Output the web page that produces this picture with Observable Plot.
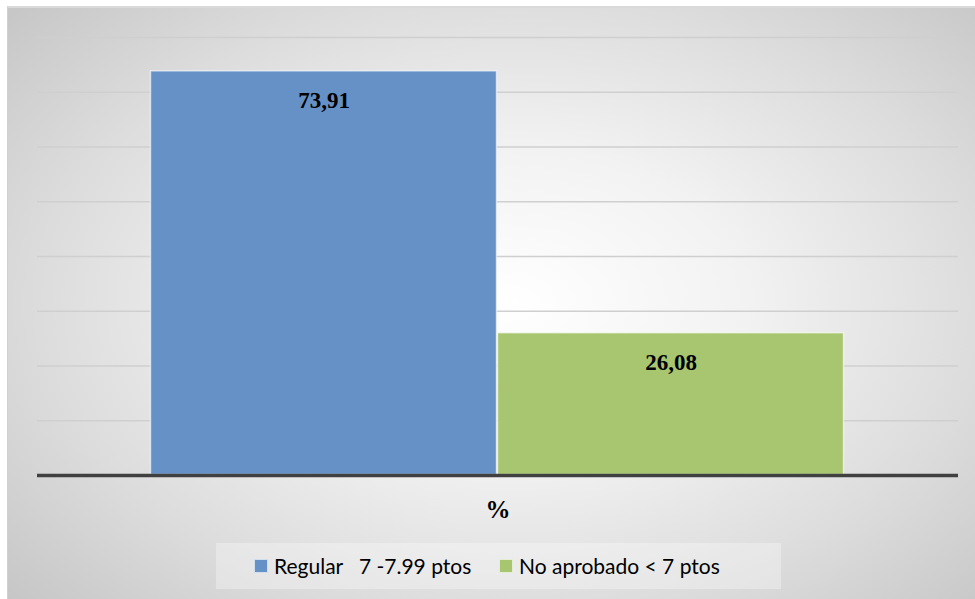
<!DOCTYPE html>
<html>
<head>
<meta charset="utf-8">
<script src="https://cdn.jsdelivr.net/npm/d3@7"></script>
<script src="https://cdn.jsdelivr.net/npm/@observablehq/plot@0.6"></script>
<style>
  html, body { margin: 0; padding: 0; background: #ffffff; }
  #chart {
    position: absolute; left: 7px; top: 6px; width: 968px; height: 593px;
    background: radial-gradient(ellipse 70% 75% at 52% 50%, #ffffff 0%, #f2f2f2 35%, #dcdcdc 70%, #c6c6c6 100%);
    border-top: 2px solid #d9d9d9; border-left: 1px solid #d0d0d0;
    box-sizing: border-box; overflow: hidden;
  }
  #plot { position: absolute; left: -8px; top: -8px; }
  #legend {
    position: absolute; left: 208px; top: 535px; width: 565px; height: 46px;
    background: rgba(255,255,255,0.3);
    font-family: Lato, "Liberation Sans", sans-serif; font-size: 21px; color: #000;
  }
  .item { display: flex; align-items: center; position: absolute; top: 10px; }
  .sw { width: 12px; height: 12px; margin-right: 6px; border: 1px solid rgba(255,255,255,0.7); }
</style>
</head>
<body>
<div id="chart">
  <div id="plot"></div>
  <div id="legend"></div>
</div>
<script>
const series = ["Regular   7 -7.99 ptos", "No aprobado < 7 ptos"];
const values = [73.91, 26.08];
const valueLabels = ["73,91", "26,08"];
const colors = ["#6691c6", "#a8c56f"];
const category = "%";
const gridTicks = [10, 20, 30, 40, 50, 60, 70, 80];

const data = series.map((s, i) => ({series: s, value: values[i], label: valueLabels[i]}));

const plot = Plot.plot({
  width: 975,
  height: 530,
  marginLeft: 37,
  marginRight: 17,
  marginTop: 37,
  marginBottom: 55,
  style: {background: "transparent", overflow: "visible"},
  x: {domain: series, range: [150, 844], padding: 0, axis: null},
  y: {domain: [0, 80], axis: null},
  color: {domain: series, range: colors},
  marks: [
    Plot.ruleY(gridTicks, {stroke: "#cfcfcf", strokeWidth: 1.5}),
    Plot.barY(data, {x: "series", y: "value", fill: "series", stroke: "rgba(255,255,255,0.6)", strokeWidth: 1.5, inset: 0.5}),
    Plot.text(data, {x: "series", y: "value", text: "label", dy: 30, fontFamily: "Liberation Serif, serif", fontWeight: "bold", fontSize: 23, fill: "#000"}),
    Plot.ruleY([0], {stroke: "#404040", strokeWidth: 3.5}),
    Plot.text([category], {frameAnchor: "bottom", text: d => d, dy: 42, fontFamily: "Liberation Serif, serif", fontWeight: "bold", fontSize: 25, fill: "#000"})
  ]
});
document.getElementById("plot").appendChild(plot);

const legend = document.getElementById("legend");
const positions = [38, 283];
series.forEach((s, i) => {
  const it = document.createElement("div");
  it.className = "item";
  it.style.left = positions[i] + "px";
  const sw = document.createElement("span");
  sw.className = "sw";
  sw.style.background = colors[i];
  const tx = document.createElement("span");
  tx.textContent = s;
  tx.style.whiteSpace = "pre";
  it.appendChild(sw); it.appendChild(tx);
  legend.appendChild(it);
});
</script>
</body>
</html>
